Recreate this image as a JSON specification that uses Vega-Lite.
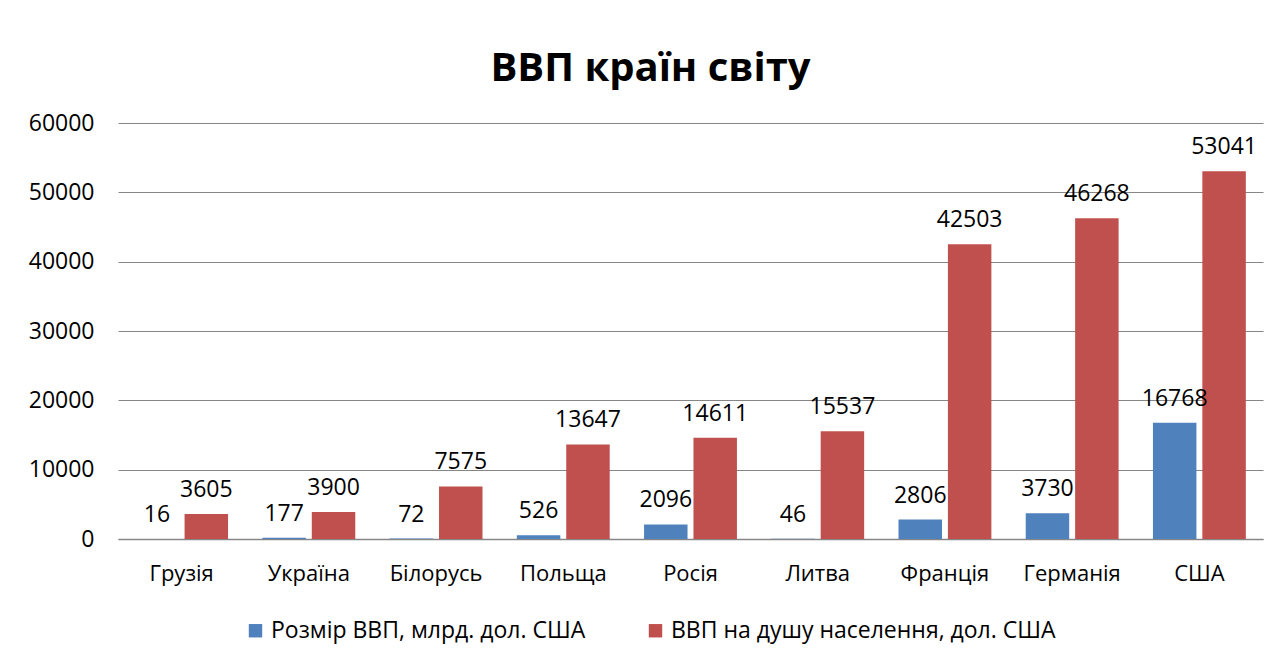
{
  "$schema": "https://vega.github.io/schema/vega-lite/v6.json",
  "autosize": {"type": "none"},
  "width": 1145,
  "height": 416,
  "padding": {"left": 118, "top": 123, "right": 21, "bottom": 122},
  "background": "white",
  "title": {
    "text": "ВВП країн світу",
    "font": "Open Sans",
    "fontSize": 40,
    "fontWeight": "bold",
    "color": "#000000",
    "anchor": "middle",
    "dx": -40,
    "offset": 23
  },
  "data": {
    "values": [
      {"country": "Грузія", "series": "Розмір ВВП, млрд. дол. США", "value": 16},
      {"country": "Грузія", "series": "ВВП на душу населення, дол. США", "value": 3605},
      {"country": "Україна", "series": "Розмір ВВП, млрд. дол. США", "value": 177},
      {"country": "Україна", "series": "ВВП на душу населення, дол. США", "value": 3900},
      {"country": "Білорусь", "series": "Розмір ВВП, млрд. дол. США", "value": 72},
      {"country": "Білорусь", "series": "ВВП на душу населення, дол. США", "value": 7575},
      {"country": "Польща", "series": "Розмір ВВП, млрд. дол. США", "value": 526},
      {"country": "Польща", "series": "ВВП на душу населення, дол. США", "value": 13647},
      {"country": "Росія", "series": "Розмір ВВП, млрд. дол. США", "value": 2096},
      {"country": "Росія", "series": "ВВП на душу населення, дол. США", "value": 14611},
      {"country": "Литва", "series": "Розмір ВВП, млрд. дол. США", "value": 46},
      {"country": "Литва", "series": "ВВП на душу населення, дол. США", "value": 15537},
      {"country": "Франція", "series": "Розмір ВВП, млрд. дол. США", "value": 2806},
      {"country": "Франція", "series": "ВВП на душу населення, дол. США", "value": 42503},
      {"country": "Германія", "series": "Розмір ВВП, млрд. дол. США", "value": 3730},
      {"country": "Германія", "series": "ВВП на душу населення, дол. США", "value": 46268},
      {"country": "США", "series": "Розмір ВВП, млрд. дол. США", "value": 16768},
      {"country": "США", "series": "ВВП на душу населення, дол. США", "value": 53041}
    ]
  },
  "encoding": {
    "x": {
      "field": "country",
      "type": "nominal",
      "sort": null,
      "scale": {"paddingInner": 0.27, "paddingOuter": 0.135},
      "axis": {
        "title": null,
        "labelAngle": 0,
        "labelFont": "Open Sans",
        "labelFontSize": 22,
        "labelColor": "#000000",
        "labelPadding": 24,
        "ticks": false,
        "domainColor": "#868686",
        "domainWidth": 1.5
      }
    },
    "xOffset": {
      "field": "series",
      "type": "nominal",
      "sort": ["Розмір ВВП, млрд. дол. США", "ВВП на душу населення, дол. США"],
      "scale": {"paddingInner": 0.12}
    },
    "y": {
      "field": "value",
      "type": "quantitative",
      "scale": {"domain": [0, 60000]},
      "axis": {
        "title": null,
        "values": [0, 10000, 20000, 30000, 40000, 50000, 60000],
        "format": "d",
        "labelOverlap": false,
        "labelFont": "Open Sans",
        "labelFontSize": 23,
        "labelColor": "#000000",
        "labelPadding": 24,
        "ticks": false,
        "domain": false,
        "gridColor": "#868686",
        "gridWidth": 1.2
      }
    }
  },
  "layer": [
    {
      "mark": {"type": "bar"},
      "encoding": {
        "color": {
          "field": "series",
          "type": "nominal",
          "sort": ["Розмір ВВП, млрд. дол. США", "ВВП на душу населення, дол. США"],
          "scale": {"range": ["#4F81BD", "#C0504D"]},
          "legend": {
            "title": null,
            "orient": "none",
            "direction": "horizontal",
            "legendX": 126,
            "legendY": 496,
            "symbolType": "square",
            "symbolSize": 180,
            "symbolStrokeWidth": 0,
            "labelFont": "Open Sans",
            "labelFontSize": 23,
            "labelColor": "#000000",
            "labelLimit": 600,
            "labelOffset": 4,
            "columnPadding": 58
          }
        }
      }
    },
    {
      "mark": {"type": "text", "baseline": "bottom", "dy": -12, "font": "Open Sans", "fontSize": 23, "color": "#000000"},
      "encoding": {
        "text": {"field": "value", "type": "quantitative", "format": "d"}
      }
    }
  ],
  "config": {"view": {"stroke": null}}
}
